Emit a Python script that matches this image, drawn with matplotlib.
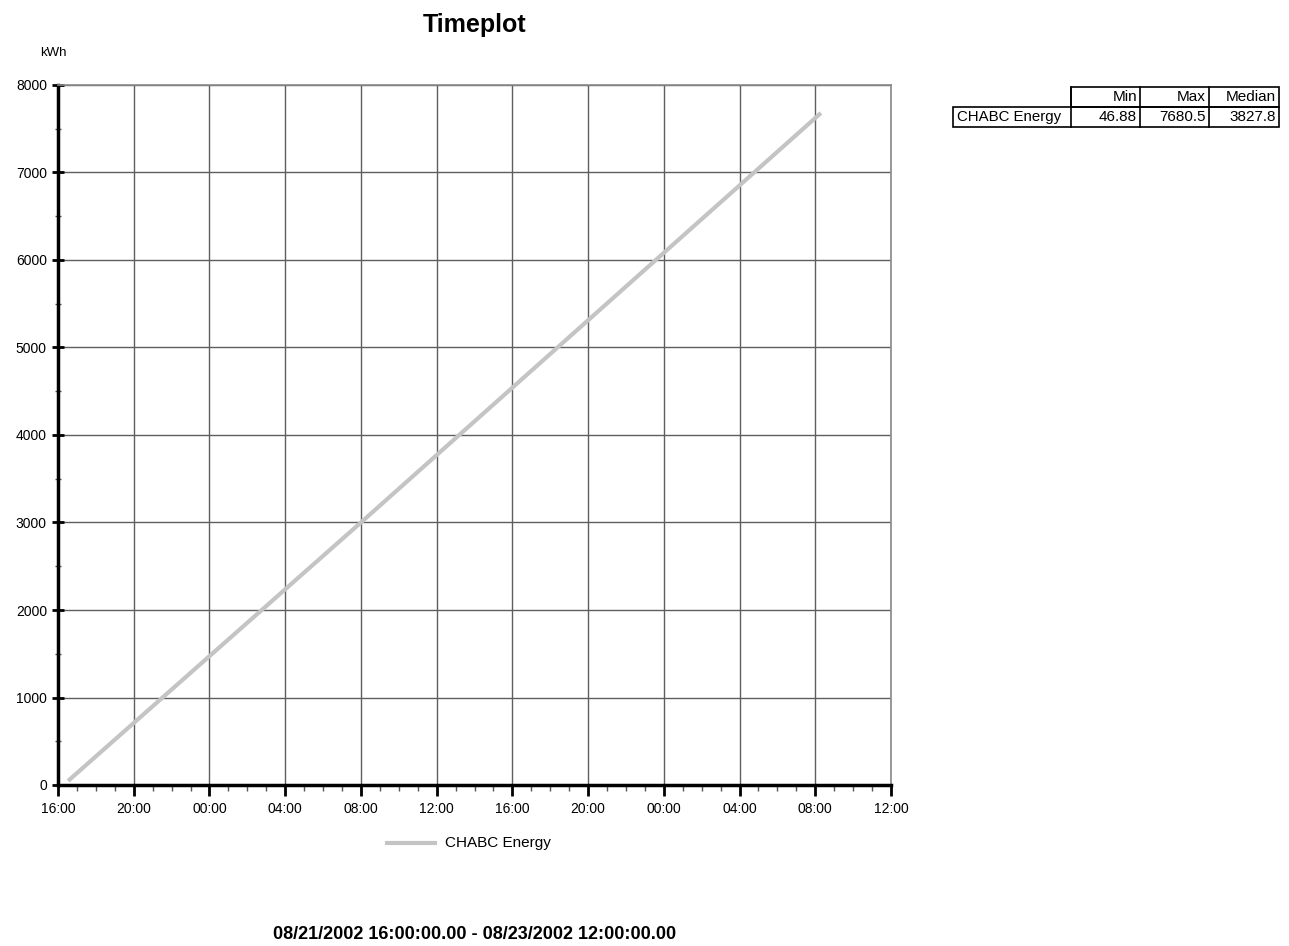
import matplotlib
matplotlib.use("Agg")
import matplotlib.pyplot as plt
import matplotlib.dates as mdates
from matplotlib.lines import Line2D
from matplotlib.patches import Rectangle
from datetime import datetime

plt.rcParams['font.family'] = ['Liberation Sans Narrow', 'Liberation Sans', 'DejaVu Sans']

# ---- data ----
series_name = "CHABC Energy"
times = [datetime(2002, 8, 21, 16, 32), datetime(2002, 8, 22, 8, 0), datetime(2002, 8, 23, 8, 18)]
values = [46.88, 3000.0, 7680.5]
stat_headers = ["Min", "Max", "Median"]
stat_values = ["46.88", "7680.5", "3827.8"]
x_start = datetime(2002, 8, 21, 16, 0)
x_end = datetime(2002, 8, 23, 12, 0)
y_ticks = [0, 1000, 2000, 3000, 4000, 5000, 6000, 7000, 8000]
title = "Timeplot"
y_unit = "kWh"
range_text = "08/21/2002 16:00:00.00 - 08/23/2002 12:00:00.00"

W, H = 1289, 946
fig = plt.figure(figsize=(W / 100, H / 100), dpi=100)
ax = fig.add_axes([58 / W, 1 - 785 / H, (891 - 58) / W, (785 - 85) / H])

ax.plot(times, values, color="#c4c4c4", lw=3, solid_capstyle="butt", zorder=3)

ax.set_xlim(x_start, x_end)
ax.set_ylim(0, 8000)
ax.set_yticks(y_ticks)
ax.yaxis.set_minor_locator(matplotlib.ticker.MultipleLocator(500))
ax.xaxis.set_major_locator(mdates.HourLocator(byhour=range(0, 24, 4)))
ax.xaxis.set_minor_locator(mdates.HourLocator())
ax.xaxis.set_major_formatter(mdates.DateFormatter("%H:%M"))

ax.grid(True, which="major", color="#5e5e5e", lw=1.0)
ax.set_axisbelow(True)
for s in ["top", "right"]:
    ax.spines[s].set_color("#8a8a8a")
    ax.spines[s].set_linewidth(1.2)
for s in ["left", "bottom"]:
    ax.spines[s].set_color("black")
    ax.spines[s].set_linewidth(2.5)

ax.tick_params(axis="both", which="major", length=8, width=2, color="black", labelsize=10, pad=4)
ax.tick_params(axis="both", which="minor", length=4, width=1, color="#555555")
ax.tick_params(axis="x", which="both", direction="out")
ax.tick_params(axis="y", which="both", direction="inout")

# title and labels
fig.text(475 / W, 1 - 25 / H, title, ha="center", va="center", fontsize=18, fontweight="bold")
fig.text(53 / W, 1 - 53 / H, y_unit, ha="center", va="center", fontsize=9.5)
fig.text(475 / W, 1 - 934 / H, range_text, ha="center", va="center", fontsize=13, fontweight="bold")

# legend
fig.add_artist(Line2D([387 / W, 435 / W], [1 - 843 / H, 1 - 843 / H], color="#c4c4c4", lw=3,
                      transform=fig.transFigure))
fig.text(445 / W, 1 - 843 / H, series_name, ha="left", va="center", fontsize=11)

# stats table
col_edges = [953, 1071, 1140, 1209, 1279]
row_edges = [87, 107, 127]
def fx(x):
    return x / W
def fy(y):
    return 1 - y / H
fig.add_artist(Rectangle((fx(col_edges[1]), fy(row_edges[1])), fx(col_edges[4]) - fx(col_edges[1]),
                         fy(row_edges[0]) - fy(row_edges[1]), fill=False, ec="black", lw=1.2,
                         transform=fig.transFigure))
fig.add_artist(Rectangle((fx(col_edges[0]), fy(row_edges[2])), fx(col_edges[4]) - fx(col_edges[0]),
                         fy(row_edges[1]) - fy(row_edges[2]), fill=False, ec="black", lw=1.2,
                         transform=fig.transFigure))
for c in col_edges[1:4]:
    fig.add_artist(Line2D([fx(c), fx(c)], [fy(row_edges[0]), fy(row_edges[2])], color="black", lw=1.2,
                          transform=fig.transFigure))
for j, h in enumerate(stat_headers):
    fig.text(fx(col_edges[j + 2] - 3), fy((row_edges[0] + row_edges[1]) / 2), h,
             ha="right", va="center", fontsize=11)
    fig.text(fx(col_edges[j + 2] - 3), fy((row_edges[1] + row_edges[2]) / 2), stat_values[j],
             ha="right", va="center", fontsize=11)
fig.text(fx(col_edges[0] + 4), fy((row_edges[1] + row_edges[2]) / 2), series_name,
         ha="left", va="center", fontsize=10.8)

fig.savefig("out.png", dpi=100)
